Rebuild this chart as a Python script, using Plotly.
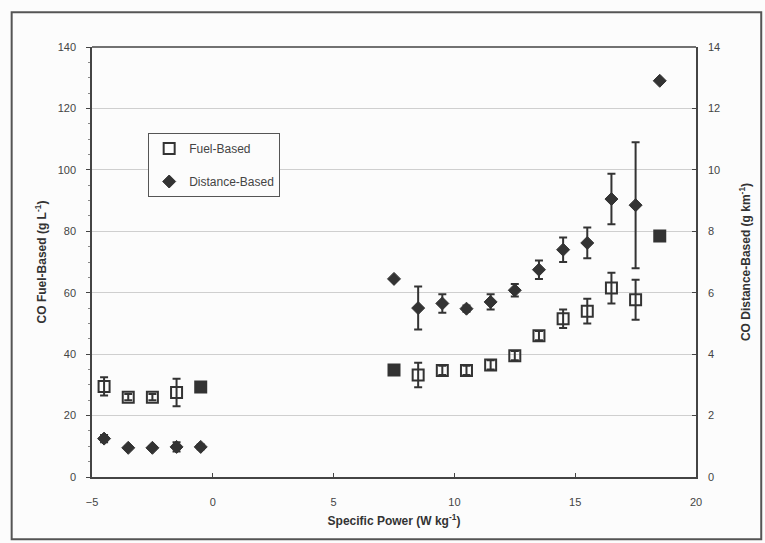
import plotly.graph_objects as go

# Data
specific_power = [-4.5, -3.5, -2.5, -1.5, -0.5, 7.5, 8.5, 9.5, 10.5, 11.5, 12.5, 13.5, 14.5, 15.5, 16.5, 17.5, 18.5]
fuel_based = [29.5, 26, 26, 27.5, 29.3, 34.8, 33.2, 34.7, 34.7, 36.5, 39.5, 46, 51.5, 54, 61.5, 57.7, 78.5]
fuel_err = [3, 1, 1, 4.5, 0, 0, 4, 1.5, 1.5, 1.5, 1.5, 1.5, 3, 4, 5, 6.5, 0]
distance_based = [1.25, 0.95, 0.95, 0.98, 0.98, 6.45, 5.5, 5.65, 5.48, 5.7, 6.08, 6.75, 7.4, 7.62, 9.05, 8.85, 12.9]
distance_err = [0.12, 0.05, 0.05, 0.15, 0.08, 0, 0.7, 0.3, 0.1, 0.25, 0.2, 0.3, 0.4, 0.5, 0.82, 2.05, 0]

sq_sym = ["square" if e == 0 else "square-open" for e in fuel_err]
dm_sym = ["diamond" for e in distance_err]

ink = "#333333"
font = "Liberation Sans, Arial, sans-serif"

fig = go.Figure()
fig.add_trace(go.Scatter(
    x=specific_power, y=fuel_based, mode="markers", name="Fuel-Based", legendgroup="a",
    marker=dict(symbol=sq_sym, size=11, color=ink, line=dict(color=ink, width=2)),
    error_y=dict(type="data", array=fuel_err, visible=True, color=ink, thickness=2, width=4),
    yaxis="y",
))
fig.add_trace(go.Scatter(
    x=specific_power, y=distance_based, mode="markers", name="Distance-Based", legendgroup="b",
    marker=dict(symbol=dm_sym, size=10, color=ink, line=dict(color=ink, width=1)),
    error_y=dict(type="data", array=distance_err, visible=True, color=ink, thickness=2, width=4),
    yaxis="y2",
))

fig.update_layout(
    width=765, height=543,
    margin=dict(l=92, r=69, t=47, b=66),
    paper_bgcolor="#fcfcfc", plot_bgcolor="#fcfcfc",
    font=dict(family=font, size=11, color="#444"),
    showlegend=True,
    legend=dict(x=0.093, y=0.80, xanchor="left", yanchor="top",
                bordercolor="#555", borderwidth=1, bgcolor="#fcfcfc",
                entrywidth=130, entrywidthmode="pixels",
                font=dict(size=12, color="#444"), tracegroupgap=14),
    xaxis=dict(range=[-5, 20], tickvals=[-5, 0, 5, 10, 15, 20], showgrid=False,
               zeroline=False, showline=True, linecolor="#444", linewidth=1.5,
               ticks="inside", ticklen=4, tickcolor="#444", ticklabelstandoff=14,
               title=dict(text="<b>Specific Power (W kg<sup>-1</sup>)</b>", font=dict(size=12, color="#333"), standoff=10)),
    yaxis=dict(range=[0, 140], tickvals=[0, 20, 40, 60, 80, 100, 120, 140], showgrid=True,
               gridcolor="#cfcfcf", gridwidth=1, zeroline=False, showline=True, linecolor="#444",
               linewidth=1.5, mirror=False, ticks="outside", ticklen=4, tickcolor="#444",
               ticklabelstandoff=8,
               minor=dict(ticks="outside", ticklen=2, dtick=5, tickcolor="#888"),
               title=dict(text="<b>CO Fuel-Based (g L<sup>-1</sup>)</b>", font=dict(size=12, color="#333"), standoff=8)),
    yaxis2=dict(range=[0, 14], tickvals=[0, 2, 4, 6, 8, 10, 12, 14], overlaying="y", side="right",
                showgrid=False, zeroline=False, showline=True, linecolor="#444", linewidth=1.5,
                ticks="inside", ticklen=4, tickcolor="#444", ticklabelstandoff=8,
                title=dict(text="<b>CO Distance-Based (g km<sup>-1</sup>)</b>", font=dict(size=12, color="#333"), standoff=22)),
    shapes=[
        dict(type="line", xref="paper", yref="paper", x0=0, x1=1, y0=1, y1=1, line=dict(color="#444", width=1.5)),
        dict(type="rect", xref="paper", yref="paper", x0=-0.133, x1=1.108, y0=-0.145, y1=1.081,
             line=dict(color="#555", width=2)),
    ],
)

fig.write_html("out.html")
